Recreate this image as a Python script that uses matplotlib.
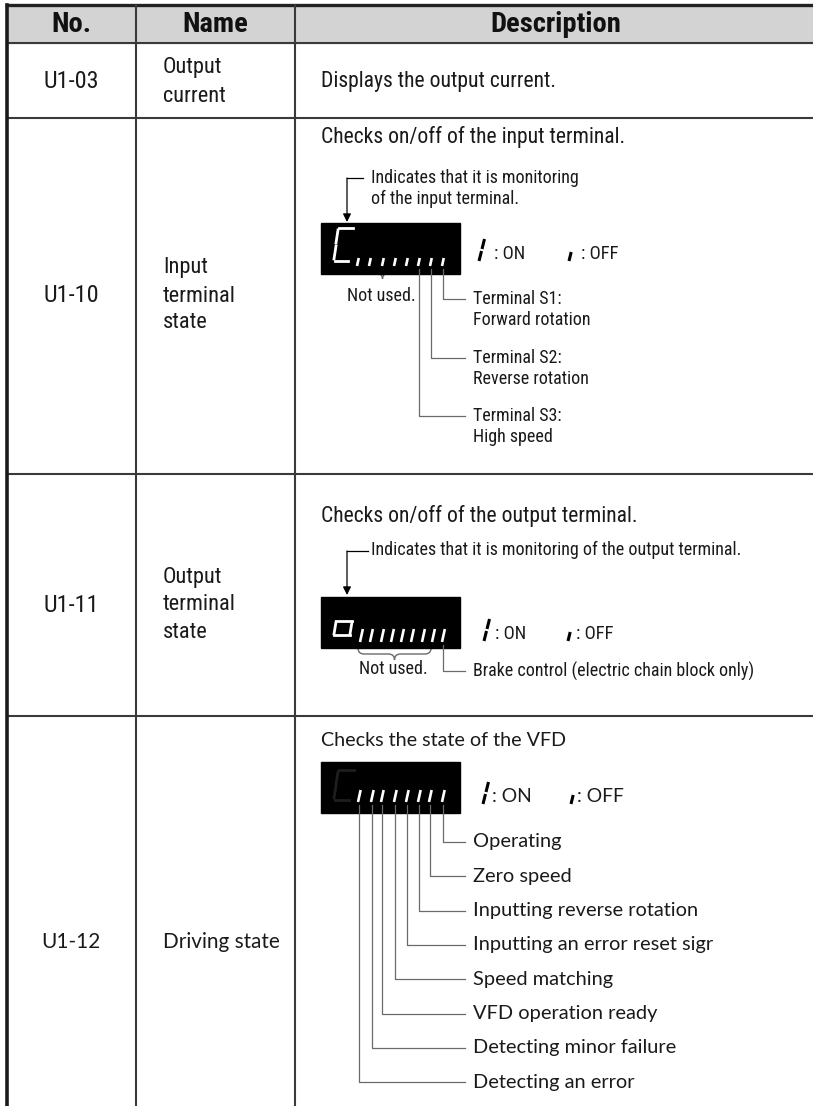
import os
import matplotlib
matplotlib.use("Agg")
import matplotlib.pyplot as plt
from matplotlib import font_manager as fm
from matplotlib.patches import Rectangle, PathPatch
from matplotlib.path import Path

# ---- table content ----
headers = ["No.", "Name", "Description"]
codes = ["U1-03", "U1-10", "U1-11", "U1-12"]
names = [["Output", "current"], ["Input", "terminal", "state"],
         ["Output", "terminal", "state"], ["Driving state"]]
descriptions = ["Displays the output current.",
                "Checks on/off of the input terminal.",
                "Checks on/off of the output terminal.",
                "Checks the state of the VFD"]
input_note = ["Indicates that it is monitoring", "of the input terminal."]
output_note = ["Indicates that it is monitoring of the output terminal."]
input_bits = [["Terminal S1:", "Forward rotation"],
              ["Terminal S2:", "Reverse rotation"],
              ["Terminal S3:", "High speed"]]
output_bits = ["Brake control (electric chain block only)"]
drive_bits = ["Operating", "Zero speed", "Inputting reverse rotation",
              "Inputting an error reset sigr", "Speed matching",
              "VFD operation ready", "Detecting minor failure",
              "Detecting an error"]
not_used = "Not used."
on_off = [": ON", ": OFF"]


def pick_font(bold):
    # look for a condensed / narrow face, otherwise plain Roboto / Liberation
    keys = ["robotocondensed", "liberationsansnarrow", "notosans-condensed",
            "opensans-condensed", "opensans_condensed", "dejavusanscondensed",
            "condensed", "narrow"]
    files = [f.fname for f in fm.fontManager.ttflist]
    for key in keys:
        for fn in files:
            b = os.path.basename(fn).lower().replace(" ", "")
            if key not in b or "italic" in b or "oblique" in b:
                continue
            if "light" in b or "thin" in b or "black" in b or "extra" in b or "semi" in b or "medium" in b:
                continue
            if bold == ("bold" in b):
                return fm.FontProperties(fname=fn)
    return fm.FontProperties(family=["Roboto", "Liberation Sans", "DejaVu Sans"],
                             weight="bold" if bold else "normal")


NARROW = pick_font(False)
NARROW_B = pick_font(True)
MYRIAD = fm.FontProperties(family=["Lato", "DejaVu Sans"])
GRID = "#3a3a3a"
LEAD = "#6a6a6a"

W, H = 813, 1106
fig = plt.figure(figsize=(W / 100, H / 100), dpi=100)
ax = fig.add_axes([0, 0, 1, 1])
ax.set_xlim(0, W)
ax.set_ylim(H, 0)
ax.axis("off")
rend = fig.canvas.get_renderer()


def width_scale(s, fp, size, target):
    t = ax.text(0, 0, s, fontproperties=fp, fontsize=size)
    w = t.get_window_extent(rend).width
    t.remove()
    return target / w


# scale the available faces so that a few reference strings get their widths
sn = width_scale(input_note[0][:-1], NARROW, 10, 198) * 10 / 14.5
sb = width_scale(headers[2], NARROW_B, 20, 130)
sm = width_scale(drive_bits[-1], MYRIAD, 14, 162)


def nt(x, y, s, size, ha="left", color="#1a1a1a"):
    ax.text(x, y, s, ha=ha, va="center", fontproperties=NARROW, fontsize=size * sn, color=color)


def mt(x, y, s, size, ha="left"):
    ax.text(x, y, s, ha=ha, va="center", fontproperties=MYRIAD, fontsize=size * sm, color="#1a1a1a")


rows = [5, 43, 118, 474, 716, H + 5]
cols = [7, 136, 295, W + 5]

# header band + grid
ax.add_patch(Rectangle((cols[0], rows[0]), W, rows[1] - rows[0], color="#d3d3d3", zorder=0))
ax.plot([cols[0], W], [rows[0], rows[0]], color="#222222", lw=2.4)
for y in rows[1:-1]:
    ax.plot([cols[0], W], [y, y], color=GRID, lw=1.5)
ax.plot([cols[0], cols[0]], [rows[0], H], color="#1a1a1a", lw=2.6)
for x in cols[1:3]:
    ax.plot([x, x], [rows[0], H], color=GRID, lw=1.5)

hx = [(cols[i] + cols[i + 1]) / 2 for i in range(2)] + [556]
for x, t in zip(hx, headers):
    ax.text(x, 24, t, ha="center", va="center", fontproperties=NARROW_B,
            fontsize=20 * sb, color="#111111")

# code / name / first description line per row
code_y = [82, 296, 605, 942]
name_y = [[68, 97], [268, 296, 323], [578, 605, 632], [942]]
desc_y = [81, 137, 516, 740]
for i, code in enumerate(codes):
    if i == 3:
        mt(71, code_y[i], code, 14.5, ha="center")
        mt(163, name_y[i][0], names[i][0], 14.5)
        mt(321, desc_y[i], descriptions[i], 13.8)
        continue
    nt(71, code_y[i], code, 19.5, ha="center")
    for line, y in zip(names[i], name_y[i]):
        nt(163, y, line, 18)
    nt(321, desc_y[i], descriptions[i], 17.4)


def display(y0, first, tick_x, tick_bot, tick_h):
    ax.add_patch(Rectangle((321, y0), 139, 51, color="black", zorder=2))
    fx, fb = 335, y0 + 38
    if first == "C":
        segs = [((4, 33), (18, 33)), ((3, 31), (1, 18)), ((1, 15), (-1, 2)), ((0, 0), (13, 0))]
        col = "white"
    elif first == "o":
        segs = [((1, 14), (17, 14)), ((17, 13), (15, 1)), ((15, 0), (-1, 0)), ((-1, 1), (1, 13))]
        col = "white"
    else:
        segs = [((4, 30), (19, 30)), ((3, 28), (1, 16)), ((1, 14), (-1, 2)), ((0, 0), (14, 0))]
        col = "#1e1e1e"
    for (a, b) in segs:
        ax.plot([fx + a[0], fx + b[0]], [fb - a[1], fb - b[1]], color=col, lw=2.0, zorder=3)
    for x in tick_x:
        ax.plot([x, x + tick_h * 0.22], [tick_bot, tick_bot - tick_h], color="white",
                lw=1.9, solid_capstyle="butt", zorder=3)


def brace(x0, x1, y0, h):
    xc = (x0 + x1) / 2
    ym = y0 + h * 0.5
    r = 6
    v = [(x0, y0), (x0, ym), (x0 + r, ym), (xc - r, ym), (xc, ym), (xc, y0 + h),
         (xc, ym), (xc + r, ym), (x1 - r, ym), (x1, ym), (x1, y0)]
    c = [Path.MOVETO, Path.CURVE3, Path.CURVE3, Path.LINETO, Path.CURVE3, Path.CURVE3,
         Path.CURVE3, Path.CURVE3, Path.LINETO, Path.CURVE3, Path.CURVE3]
    ax.add_patch(PathPatch(Path(v, c), fill=False, edgecolor=LEAD, lw=1.0))


def lead(x, ytop, ytxt, xend=465):
    ax.plot([x + 1, x + 1, xend], [ytop, ytxt, ytxt], color=LEAD, lw=0.9, zorder=4)


def legend(x_on, y, writer, size, dx_txt=14, gap=90):
    ax.plot([x_on, x_on + 2.5], [y + 9, y - 1], color="black", lw=2.2, solid_capstyle="butt")
    ax.plot([x_on + 3, x_on + 5.5], [y - 3, y - 13], color="black", lw=2.2, solid_capstyle="butt")
    writer(x_on + dx_txt, y + 2, on_off[0], size)
    xo = x_on + gap
    ax.plot([xo, xo + 2.2], [y + 9, y], color="black", lw=2.2, solid_capstyle="butt")
    writer(xo + dx_txt - 3, y + 2, on_off[1], size)


def arrow(x, y_top, y_tip, x_end):
    ax.plot([x_end, x], [y_top, y_top], color="black", lw=0.9)
    ax.annotate("", xy=(x, y_tip), xytext=(x, y_top),
                arrowprops=dict(arrowstyle="-|>", color="black", lw=0.9, mutation_scale=12,
                                shrinkA=0, shrinkB=0))


# ---- U1-10 input terminal ----
arrow(347, 178, 222, 363)
for line, y in zip(input_note, [178, 199]):
    nt(371, y, line, 14.5)
tx2 = [357, 369, 382, 394, 406, 418, 430, 442]
display(223, "C", tx2, 266, 8)
legend(479, 252, nt, 15, dx_txt=15)
brace(355, 410, 268, 11)
nt(381, 296, not_used, 14.5, ha="center")
for k, (x, yt) in enumerate(zip(tx2[::-1][:3], [299, 358, 416])):
    lead(x, 269, yt)
    nt(473, yt, input_bits[k][0], 14.5)
    nt(473, yt + 21, input_bits[k][1], 14.5)

# ---- U1-11 output terminal ----
arrow(347, 551, 595, 368)
nt(371, 550, output_note[0], 14.5)
tx3 = [360, 370, 381, 391, 401, 411, 422, 432, 442]
display(597, "o", tx3, 642, 13)
legend(484, 632, nt, 15, dx_txt=11, gap=84)
brace(358, 431, 648, 12)
nt(393, 669, not_used, 14.5, ha="center")
lead(tx3[-1], 645, 671)
nt(473, 671, output_bits[0], 14.5)

# ---- U1-12 driving state ----
tx4 = [358, 371, 381, 394, 406, 418, 429, 442]
display(762, "8", tx4, 802, 12)
legend(483, 795, mt, 13.5, dx_txt=9, gap=88)
for k, label in enumerate(drive_bits):
    yt = 842 + k * 34.3
    lead(tx4[::-1][k], 805, yt)
    mt(473, yt, label, 14)

fig.savefig("out.png", dpi=100)
